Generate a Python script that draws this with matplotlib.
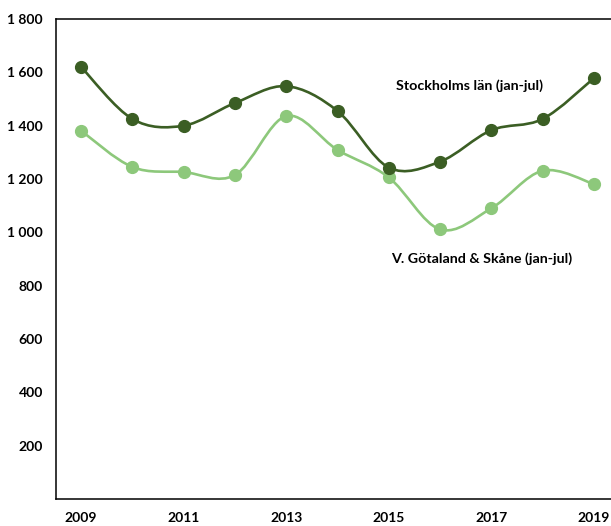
import matplotlib.pyplot as plt
import numpy as np
from matplotlib.path import Path
from matplotlib.patches import PathPatch

plt.rcParams['font.family'] = ['Lato', 'DejaVu Sans']

# data
years = [2009, 2010, 2011, 2012, 2013, 2014, 2015, 2016, 2017, 2018, 2019]
stockholm = [1620, 1425, 1400, 1485, 1548, 1455, 1243, 1265, 1383, 1425, 1578]
vgotaland = [1381, 1245, 1226, 1215, 1436, 1309, 1206, 1011, 1090, 1231, 1181]
yticks = [200, 400, 600, 800, 1000, 1200, 1400, 1600, 1800]
xlabels = ['2009', '', '2011', '', '2013', '', '2015', '', '2017', '', '2019']

dark = '#3b5e24'
light = '#8dc87b'


def smooth_path(x, y):
    # Excel-like smoothing: cubic bezier with catmull-rom control points
    pts = np.column_stack([x, y]).astype(float)
    n = len(pts)
    verts = [pts[0]]
    codes = [Path.MOVETO]
    for i in range(n - 1):
        p0 = pts[i - 1] if i > 0 else pts[i]
        p1 = pts[i]
        p2 = pts[i + 1]
        p3 = pts[i + 2] if i + 2 < n else pts[i + 1]
        c1 = p1 + (p2 - p0) / 6
        c2 = p2 - (p3 - p1) / 6
        verts += [c1, c2, p2]
        codes += [Path.CURVE4] * 3
    return Path(verts, codes)


fig = plt.figure(figsize=(6.11, 5.26), dpi=100)
ax = fig.add_axes([55.5 / 611, 27 / 526, 564 / 611, 480 / 526])

xs = np.arange(len(years))
for vals, col in [(vgotaland, light), (stockholm, dark)]:
    ax.add_patch(PathPatch(smooth_path(xs, vals), fill=False, edgecolor=col,
                           lw=1.9, capstyle='round'))
    ax.plot(xs, vals, 'o', color=col, ms=8.5, zorder=3)

ax.set_xlim(-0.5, 10.5)
ax.set_ylim(0, 1800)
ax.set_yticks(yticks)
ax.set_yticklabels([f'{v:,}'.replace(',', ' ') for v in yticks])
ax.set_xticks(xs)
ax.set_xticklabels(xlabels)
ax.tick_params(length=0, labelsize=10)
ax.tick_params(axis='y', pad=9)
ax.tick_params(axis='x', pad=9)
for lab in ax.get_xticklabels() + ax.get_yticklabels():
    lab.set_fontweight('bold')

for s in ['left', 'bottom', 'top', 'right']:
    ax.spines[s].set_linewidth(1.1)

ax.text(7.57, 1549, 'Stockholms län (jan-jul)', ha='center', va='center',
        fontsize=10.3, fontweight='bold')
ax.text(7.82, 900, 'V. Götaland & Skåne (jan-jul)', ha='center', va='center',
        fontsize=10.3, fontweight='bold')

fig.savefig('out.png', dpi=100)
